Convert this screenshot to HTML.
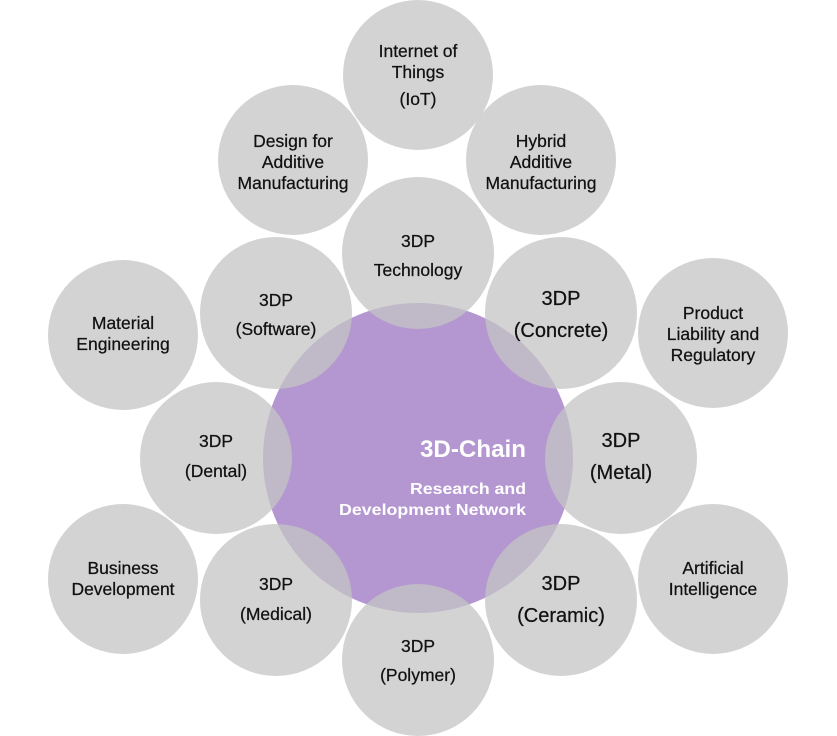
<!DOCTYPE html>
<html><head><meta charset="utf-8"><style>html,body{margin:0;padding:0;background:#fff}svg{display:block}</style></head>
<body>
<svg width="837" height="736" viewBox="0 0 837 736" xmlns="http://www.w3.org/2000/svg" font-family="Liberation Sans, DejaVu Sans, sans-serif">
<circle cx="418" cy="458" r="155" fill="#b497d0"/>
<g fill="rgb(196,196,196)" fill-opacity="0.75">
<circle cx="418" cy="75" r="75"/>
<circle cx="293" cy="160" r="75"/>
<circle cx="541" cy="160" r="75"/>
<circle cx="123" cy="335" r="75"/>
<circle cx="713" cy="333" r="75"/>
<circle cx="123" cy="579" r="75"/>
<circle cx="713" cy="579" r="75"/>
<circle cx="418" cy="253" r="76"/>
<circle cx="276" cy="313" r="76"/>
<circle cx="561" cy="313" r="76"/>
<circle cx="216" cy="458" r="76"/>
<circle cx="621" cy="458" r="76"/>
<circle cx="276" cy="600" r="76"/>
<circle cx="561" cy="600" r="76"/>
<circle cx="418" cy="660" r="76"/>
</g>
<g fill="#111" font-size="17.5" text-anchor="middle" stroke="#111" stroke-width="0.25">
<text x="418" y="57">Internet of</text><text x="418" y="78">Things</text><text x="418" y="105">(IoT)</text>
<text x="293" y="147">Design for</text><text x="293" y="168">Additive</text><text x="293" y="189">Manufacturing</text>
<text x="541" y="147">Hybrid</text><text x="541" y="168">Additive</text><text x="541" y="189">Manufacturing</text>
<text x="123" y="329">Material</text><text x="123" y="350">Engineering</text>
<text x="713" y="319">Product</text><text x="713" y="340">Liability and</text><text x="713" y="361">Regulatory</text>
<text x="123" y="574">Business</text><text x="123" y="595">Development</text>
<text x="713" y="574">Artificial</text><text x="713" y="595">Intelligence</text>
<text x="418" y="247">3DP</text><text x="418" y="276">Technology</text>
<text x="276" y="306">3DP</text><text x="276" y="335">(Software)</text>
<text x="216" y="447">3DP</text><text x="216" y="477">(Dental)</text>
<text x="276" y="590">3DP</text><text x="276" y="620">(Medical)</text>
<text x="418" y="652">3DP</text><text x="418" y="681">(Polymer)</text>
</g>
<g fill="#111" font-size="20" text-anchor="middle" stroke="#111" stroke-width="0.25">
<text x="561" y="305">3DP</text><text x="561" y="337">(Concrete)</text>
<text x="621" y="447">3DP</text><text x="621" y="479">(Metal)</text>
<text x="561" y="590">3DP</text><text x="561" y="622">(Ceramic)</text>
</g>
<g fill="#fff" font-weight="bold" text-anchor="end">
<text x="526" y="457" font-size="24" textLength="106" lengthAdjust="spacingAndGlyphs">3D-Chain</text>
<text x="526" y="494" font-size="16" textLength="116" lengthAdjust="spacingAndGlyphs">Research and</text>
<text x="526" y="515" font-size="16" textLength="187" lengthAdjust="spacingAndGlyphs">Development Network</text>
</g>
</svg>
</body></html>
